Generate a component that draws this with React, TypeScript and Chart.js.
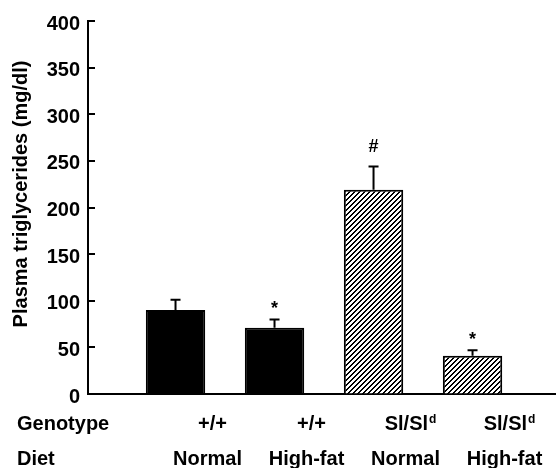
import React, { useEffect, useRef } from 'react';
import { Chart, registerables } from 'chart.js';

Chart.register(...registerables);

// ---- data ----
const positions = [1, 2, 3, 4];
const genotypes = ['+/+', '+/+', 'Sl/Sl', 'Sl/Sl'];
const genotypeSup = ['', '', 'd', 'd'];
const diets = ['Normal', 'High-fat', 'Normal', 'High-fat'];
const means = [90, 71, 219, 41];
const semUpper = [11, 9, 25, 6];
const marks = ['', '*', '#', '*'];
const yTickValues = [0, 50, 100, 150, 200, 250, 300, 350, 400];
const yTitle = 'Plasma triglycerides (mg/dl)';
const rowLabels = ['Genotype', 'Diet'];
const solidFlags = [true, true, false, false];

const FAMILY = '"Liberation Sans", Arial, Helvetica, sans-serif';

function makeHatch(): CanvasPattern | string {
  const n = 5;
  const c = document.createElement('canvas');
  c.width = n;
  c.height = n;
  const g = c.getContext('2d');
  if (!g) return '#fff';
  const img = g.createImageData(n, n);
  for (let yy = 0; yy < n; yy++) {
    for (let xx = 0; xx < n; xx++) {
      const on = (xx + yy) % n < 2;
      const k = (yy * n + xx) * 4;
      const v = on ? 0 : 255;
      img.data[k] = v;
      img.data[k + 1] = v;
      img.data[k + 2] = v;
      img.data[k + 3] = 255;
    }
  }
  g.putImageData(img, 0, 0);
  return g.createPattern(c, 'repeat') || '#fff';
}

const extras = {
  id: 'extras',
  afterDatasetsDraw(chart: any) {
    const { ctx, scales } = chart;
    const x = scales.x;
    const y = scales.y;
    ctx.save();
    ctx.strokeStyle = '#000';
    ctx.fillStyle = '#000';
    ctx.lineWidth = 2;
    positions.forEach((p, i) => {
      const px = x.getPixelForValue(p);
      const yb = y.getPixelForValue(means[i]);
      const yt = y.getPixelForValue(means[i] + semUpper[i]);
      ctx.beginPath();
      ctx.moveTo(px, yb);
      ctx.lineTo(px, yt);
      ctx.moveTo(px - 5, yt);
      ctx.lineTo(px + 5, yt);
      ctx.stroke();
      if (marks[i]) {
        ctx.font = `bold 18px ${FAMILY}`;
        ctx.textAlign = 'center';
        ctx.textBaseline = 'alphabetic';
        const m = ctx.measureText(marks[i]);
        const gap = marks[i] === '#' ? 14 : 11;
        ctx.fillText(marks[i], px, yt - gap - m.actualBoundingBoxDescent);
      }
    });
    ctx.restore();
  },
  afterDraw(chart: any) {
    const { ctx, scales, chartArea } = chart;
    const x = scales.x;
    const y = scales.y;
    ctx.save();
    // inward tick marks on y axis
    ctx.strokeStyle = '#000';
    ctx.lineWidth = 2;
    y.ticks.forEach((t: any) => {
      const py = Math.round(y.getPixelForValue(t.value));
      ctx.beginPath();
      ctx.moveTo(chartArea.left, py);
      ctx.lineTo(chartArea.left + 7, py);
      ctx.stroke();
    });
    // y title
    ctx.fillStyle = '#000';
    ctx.font = `bold 20px ${FAMILY}`;
    ctx.save();
    ctx.translate(21, 194);
    ctx.rotate(-Math.PI / 2);
    ctx.textAlign = 'center';
    ctx.textBaseline = 'middle';
    ctx.fillText(yTitle, 0, 0);
    ctx.restore();
    // row labels
    const genoBase = 430;
    const dietBase = 465;
    ctx.textBaseline = 'alphabetic';
    ctx.textAlign = 'left';
    ctx.font = `bold 20px ${FAMILY}`;
    ctx.fillText(rowLabels[0], 17, genoBase);
    ctx.fillText(rowLabels[1], 17, dietBase);
    positions.forEach((p, i) => {
      const px = x.getPixelForValue(p);
      // genotype with optional superscript
      ctx.font = `bold 20px ${FAMILY}`;
      const mainW = ctx.measureText(genotypes[i]).width;
      ctx.font = `bold 12px ${FAMILY}`;
      const supW = genotypeSup[i] ? ctx.measureText(genotypeSup[i]).width + 1 : 0;
      const cx = px + 37;
      const left = cx - (mainW + supW) / 2;
      ctx.font = `bold 20px ${FAMILY}`;
      ctx.textAlign = 'left';
      ctx.fillText(genotypes[i], left, genoBase);
      if (genotypeSup[i]) {
        ctx.font = `bold 12px ${FAMILY}`;
        ctx.fillText(genotypeSup[i], left + mainW + 1, genoBase - 7);
      }
      // diet
      ctx.font = `bold 20px ${FAMILY}`;
      ctx.textAlign = 'center';
      ctx.fillText(diets[i], px + 32, dietBase);
    });
    ctx.restore();
  },
};

export default function App() {
  const ref = useRef<HTMLCanvasElement>(null);
  useEffect(() => {
    if (!ref.current) return;
    const hatch = makeHatch();
    const chart = new Chart(ref.current, {
      type: 'bar',
      data: {
        datasets: [
          {
            data: positions.map((p, i) => ({ x: p, y: means[i] })),
            backgroundColor: solidFlags.map((s) => (s ? '#000' : hatch)) as any,
            borderColor: '#000',
            borderWidth: 2,
            barPercentage: 0.6,
            categoryPercentage: 1,
          },
        ],
      },
      options: {
        animation: false,
        responsive: false,
        devicePixelRatio: 1,
        layout: { padding: { top: 21, left: 0, right: 0, bottom: 0 } },
        plugins: { legend: { display: false }, tooltip: { enabled: false }, title: { display: false } },
        scales: {
          x: {
            type: 'linear',
            min: 0.116,
            max: 4.843,
            offset: false,
            afterBuildTicks: (s: any) => {
              s.ticks = positions.map((v) => ({ value: v }));
            },
            grid: { display: false, drawTicks: false },
            ticks: { display: false },
            border: { display: true, color: '#000', width: 2 },
            afterFit: (s: any) => {
              s.height = 74;
            },
          },
          y: {
            min: 0,
            max: 400,
            afterBuildTicks: (s: any) => {
              s.ticks = yTickValues.map((v) => ({ value: v }));
            },
            ticks: {
              color: '#000',
              padding: 8,
              labelOffset: 3,
              font: { family: FAMILY, size: 20, weight: 'bold' },
            },
            grid: { drawOnChartArea: false, drawTicks: false },
            border: { display: true, color: '#000', width: 2 },
            afterFit: (s: any) => {
              s.width = 88;
            },
          },
        },
      },
      plugins: [extras],
    });
    return () => chart.destroy();
  }, []);
  return (
    <div style={{ position: 'fixed', left: 0, top: 0, width: 556, height: 468, background: '#fff' }}>
      <canvas ref={ref} width={556} height={468} style={{ display: 'block' }} />
    </div>
  );
}
